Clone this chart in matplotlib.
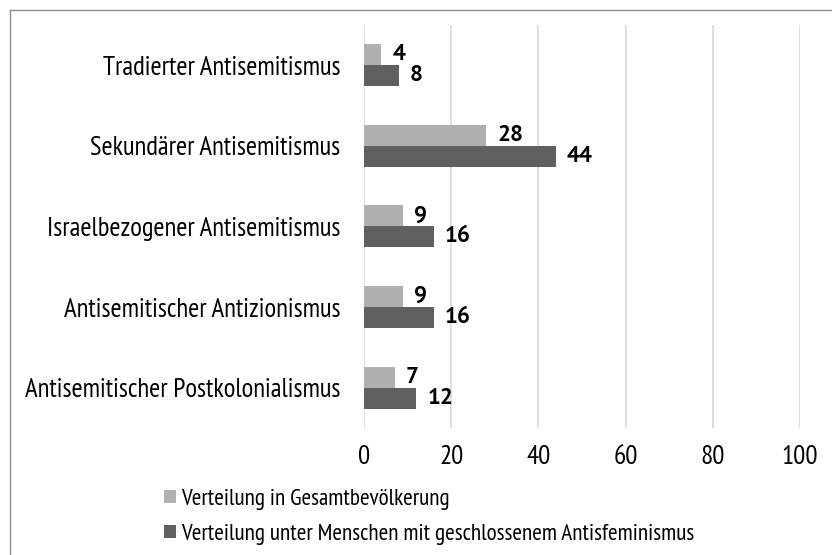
import numpy as np
import matplotlib.pyplot as plt
from matplotlib.lines import Line2D

categories = ['Tradierter Antisemitismus', 'Sekundärer Antisemitismus',
              'Israelbezogener Antisemitismus', 'Antisemitischer Antizionismus',
              'Antisemitischer Postkolonialismus']
gesamt = [4, 28, 9, 9, 7]
antifem = [8, 44, 16, 16, 12]
series_names = ['Verteilung in Gesamtbevölkerung',
                'Verteilung unter Menschen mit geschlossenem Antisfeminismus']
xticks = [0, 20, 40, 60, 80, 100]

narrow = ['PT Sans Narrow', 'Archivo Narrow', 'Liberation Sans', 'DejaVu Sans']
wide = ['PT Sans', 'Liberation Sans', 'DejaVu Sans']
plt.rcParams['font.family'] = narrow

fig = plt.figure(figsize=(8.32, 5.55), dpi=100)
ax = fig.add_axes([0.4375, 0.229, 0.524, 0.726])

y = np.arange(len(categories))
h = 0.26
light = '#B0B0B0'
dark = '#606060'
b1 = ax.barh(y - h / 2, gesamt, height=h, color=light, label=series_names[0], zorder=3)
b2 = ax.barh(y + h / 2, antifem, height=h, color=dark, label=series_names[1], zorder=3)

for bars, vals in ((b1, gesamt), (b2, antifem)):
    for r, v in zip(bars, vals):
        ax.annotate(str(v), (r.get_width(), r.get_y() + r.get_height() / 2),
                    xytext=(8, 0), textcoords='offset points',
                    ha='left', va='center', fontsize=16.5, fontweight='bold',
                    family=wide)

ax.set_xlim(0, 100)
ax.set_ylim(len(categories) - 0.5, -0.5)
ax.set_xticks(xticks)
ax.set_xticklabels([str(t) for t in xticks], fontsize=19.5)
ax.set_yticks(y)
ax.set_yticklabels(categories, fontsize=19.3)
ax.tick_params(axis='x', length=0, pad=12)
ax.tick_params(axis='y', length=0, pad=17)
ax.grid(axis='x', color='#D9D9D9', linewidth=1.2, zorder=0)
for s in ax.spines.values():
    s.set_visible(False)

fig.legend(handles=[b1, b2], loc='upper left', bbox_to_anchor=(0.197, 0.119),
           frameon=False, fontsize=16.7, handlelength=0.5, handleheight=0.5,
           handletextpad=0.25, labelspacing=0.6, borderpad=0, borderaxespad=0)

# outer frame
fig.add_artist(Line2D([0.012, 1.0], [0.982, 0.982], color='#8C8C8C', lw=1))
fig.add_artist(Line2D([0.012, 0.012], [0.0, 0.982], color='#8C8C8C', lw=1))

fig.savefig('out.png', dpi=100)
